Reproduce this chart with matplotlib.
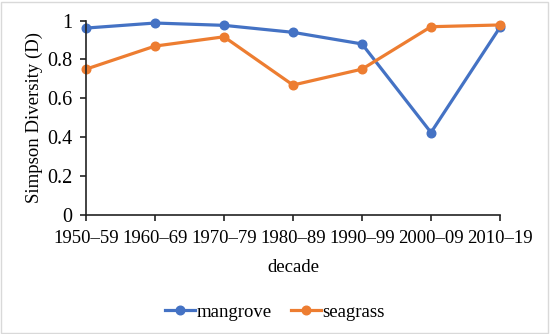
import matplotlib
matplotlib.use("Agg")
import matplotlib.pyplot as plt
from matplotlib.patches import Rectangle

# data
decades = ["1950–59", "1960–69", "1970–79", "1980–89", "1990–99", "2000–09", "2010–19"]
mangrove = [0.962, 0.988, 0.976, 0.94, 0.88, 0.423, 0.966]
seagrass = [0.75, 0.869, 0.917, 0.668, 0.75, 0.969, 0.978]

plt.rcParams["font.family"] = ["Liberation Serif", "DejaVu Serif"]

W, H = 550, 334
fig = plt.figure(figsize=(W / 100, H / 100), dpi=100)

# light grey frame around the whole chart
fig.patches.append(Rectangle((1 / W, 1 / H), (W - 3) / W, (H - 3) / H,
                             transform=fig.transFigure, fill=False,
                             edgecolor="#d9d9d9", linewidth=1))

ax = fig.add_axes([86 / W, (H - 214.5) / H, (500 - 86) / W, (214.5 - 20.7) / H])

x = range(len(decades))
ax.plot(x, mangrove, color="#4472C4", lw=2.3, marker="o", ms=6.2, label="mangrove", clip_on=False)
ax.plot(x, seagrass, color="#ED7D31", lw=2.3, marker="o", ms=6.2, label="seagrass", clip_on=False)

ax.set_xlim(0, len(decades) - 1)
ax.set_ylim(0, 1)
ax.set_xticks(list(x))
ax.set_xticklabels(decades)
ax.set_yticks([0, 0.2, 0.4, 0.6, 0.8, 1])
ax.set_yticklabels(["0", "0.2", "0.4", "0.6", "0.8", "1"])

for s in ["top", "right"]:
    ax.spines[s].set_visible(False)
for s in ["left", "bottom"]:
    ax.spines[s].set_color("#222222")
    ax.spines[s].set_linewidth(1.2)
ax.tick_params(axis="both", direction="out", length=4, width=1.2, color="#222222")
ax.tick_params(axis="x", pad=7, labelsize=13.5)
ax.tick_params(axis="y", pad=6, labelsize=14.5)

ax.set_xlabel("decade", fontsize=13.5, labelpad=9)
ax.set_ylabel("Simpson Diversity (D)", fontsize=13.5, labelpad=3)

fig.legend(loc="center", bbox_to_anchor=(0.5, (H - 312) / H), ncol=2, frameon=False,
           fontsize=13.5, handlelength=1.6, columnspacing=1.0, handletextpad=0.1)

fig.savefig("out.png", dpi=100)
